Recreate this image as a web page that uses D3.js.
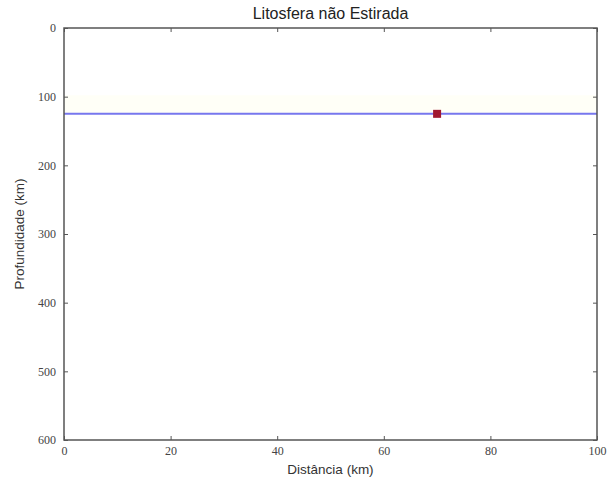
<!DOCTYPE html>
<html>
<head>
<meta charset="utf-8">
<script src="https://cdn.jsdelivr.net/npm/d3@7"></script>
<style>
  body { margin: 0; background: #fff; }
</style>
</head>
<body>
<div id="chart-container"></div>
<script>
// data
const xTicks = [0, 20, 40, 60, 80, 100];
const yTicks = [0, 100, 200, 300, 400, 500, 600];
const lineX = [0, 100];
const lineDepth = [125, 125];
const pointX = [70];
const pointDepth = [125];
const bandDepth = [98, 125]; // very faint yellow band above the line

const margin = { top: 28, right: 17, bottom: 39, left: 64 };
const width = 614 - margin.left - margin.right;
const height = 479 - margin.top - margin.bottom;

const x = d3.scaleLinear().domain([0, 100]).range([0, width]);
const y = d3.scaleLinear().domain([0, 600]).range([0, height]);

const svg = d3.select("#chart-container")
  .append("svg")
    .attr("width", 614)
    .attr("height", 479)
  .append("g")
    .attr("transform", `translate(${margin.left}, ${margin.top})`);

// faint band
svg.append("rect")
  .attr("x", x(0))
  .attr("y", y(bandDepth[0]))
  .attr("width", x(100) - x(0))
  .attr("height", y(bandDepth[1]) - y(bandDepth[0]))
  .attr("fill", "#fffff7");

// line
const lineData = lineX.map((v, i) => ({ x: v, d: lineDepth[i] }));
svg.append("path")
  .datum(lineData)
  .attr("fill", "none")
  .attr("stroke", "#7777ee")
  .attr("stroke-width", 2)
  .attr("d", d3.line().x(d => x(d.x)).y(d => y(d.d)));

// marker
svg.selectAll(".pt")
  .data(pointX.map((v, i) => ({ x: v, d: pointDepth[i] })))
  .join("rect")
  .attr("class", "pt")
  .attr("x", d => x(d.x) - 4)
  .attr("y", d => y(d.d) - 4)
  .attr("width", 8)
  .attr("height", 8)
  .attr("fill", "#a01830");

// axes (ticks inside, on all sides)
const fmt = d3.format("d");
svg.append("g")
  .attr("transform", `translate(0, ${height})`)
  .call(d3.axisBottom(x).tickValues(xTicks).tickFormat(fmt).tickSizeInner(-4).tickSizeOuter(0).tickPadding(6))
  .call(g => g.select(".domain").remove());
svg.append("g")
  .call(d3.axisTop(x).tickValues(xTicks).tickFormat("").tickSizeInner(-4).tickSizeOuter(0))
  .call(g => g.select(".domain").remove());
svg.append("g")
  .call(d3.axisLeft(y).tickValues(yTicks).tickFormat(fmt).tickSizeInner(-4).tickSizeOuter(0).tickPadding(8))
  .call(g => g.select(".domain").remove());
svg.append("g")
  .attr("transform", `translate(${width}, 0)`)
  .call(d3.axisRight(y).tickValues(yTicks).tickFormat("").tickSizeInner(-4).tickSizeOuter(0))
  .call(g => g.select(".domain").remove());

svg.selectAll(".tick line").attr("stroke", "#555");
svg.selectAll(".tick text")
  .attr("font-family", "Liberation Serif")
  .style("font-family", "Liberation Serif")
  .style("font-size", "12px")
  .attr("fill", "#444");

// frame
svg.append("rect")
  .attr("width", width)
  .attr("height", height)
  .attr("fill", "none")
  .attr("stroke", "#555")
  .attr("stroke-width", 1.5);

// labels
svg.append("text")
  .attr("x", width / 2)
  .attr("y", -9)
  .attr("text-anchor", "middle")
  .style("font-family", "Liberation Sans, Arial, sans-serif")
  .style("font-size", "16px")
  .attr("fill", "#222")
  .text("Litosfera não Estirada");

svg.append("text")
  .attr("x", width / 2)
  .attr("y", height + 34)
  .attr("text-anchor", "middle")
  .style("font-family", "Liberation Sans, Arial, sans-serif")
  .style("font-size", "13.5px")
  .attr("fill", "#333")
  .text("Distância (km)");

svg.append("text")
  .attr("transform", `translate(${-40}, ${height / 2}) rotate(-90)`)
  .attr("text-anchor", "middle")
  .style("font-family", "Liberation Sans, Arial, sans-serif")
  .style("font-size", "13.5px")
  .attr("fill", "#333")
  .text("Profundidade (km)");
</script>
</body>
</html>
